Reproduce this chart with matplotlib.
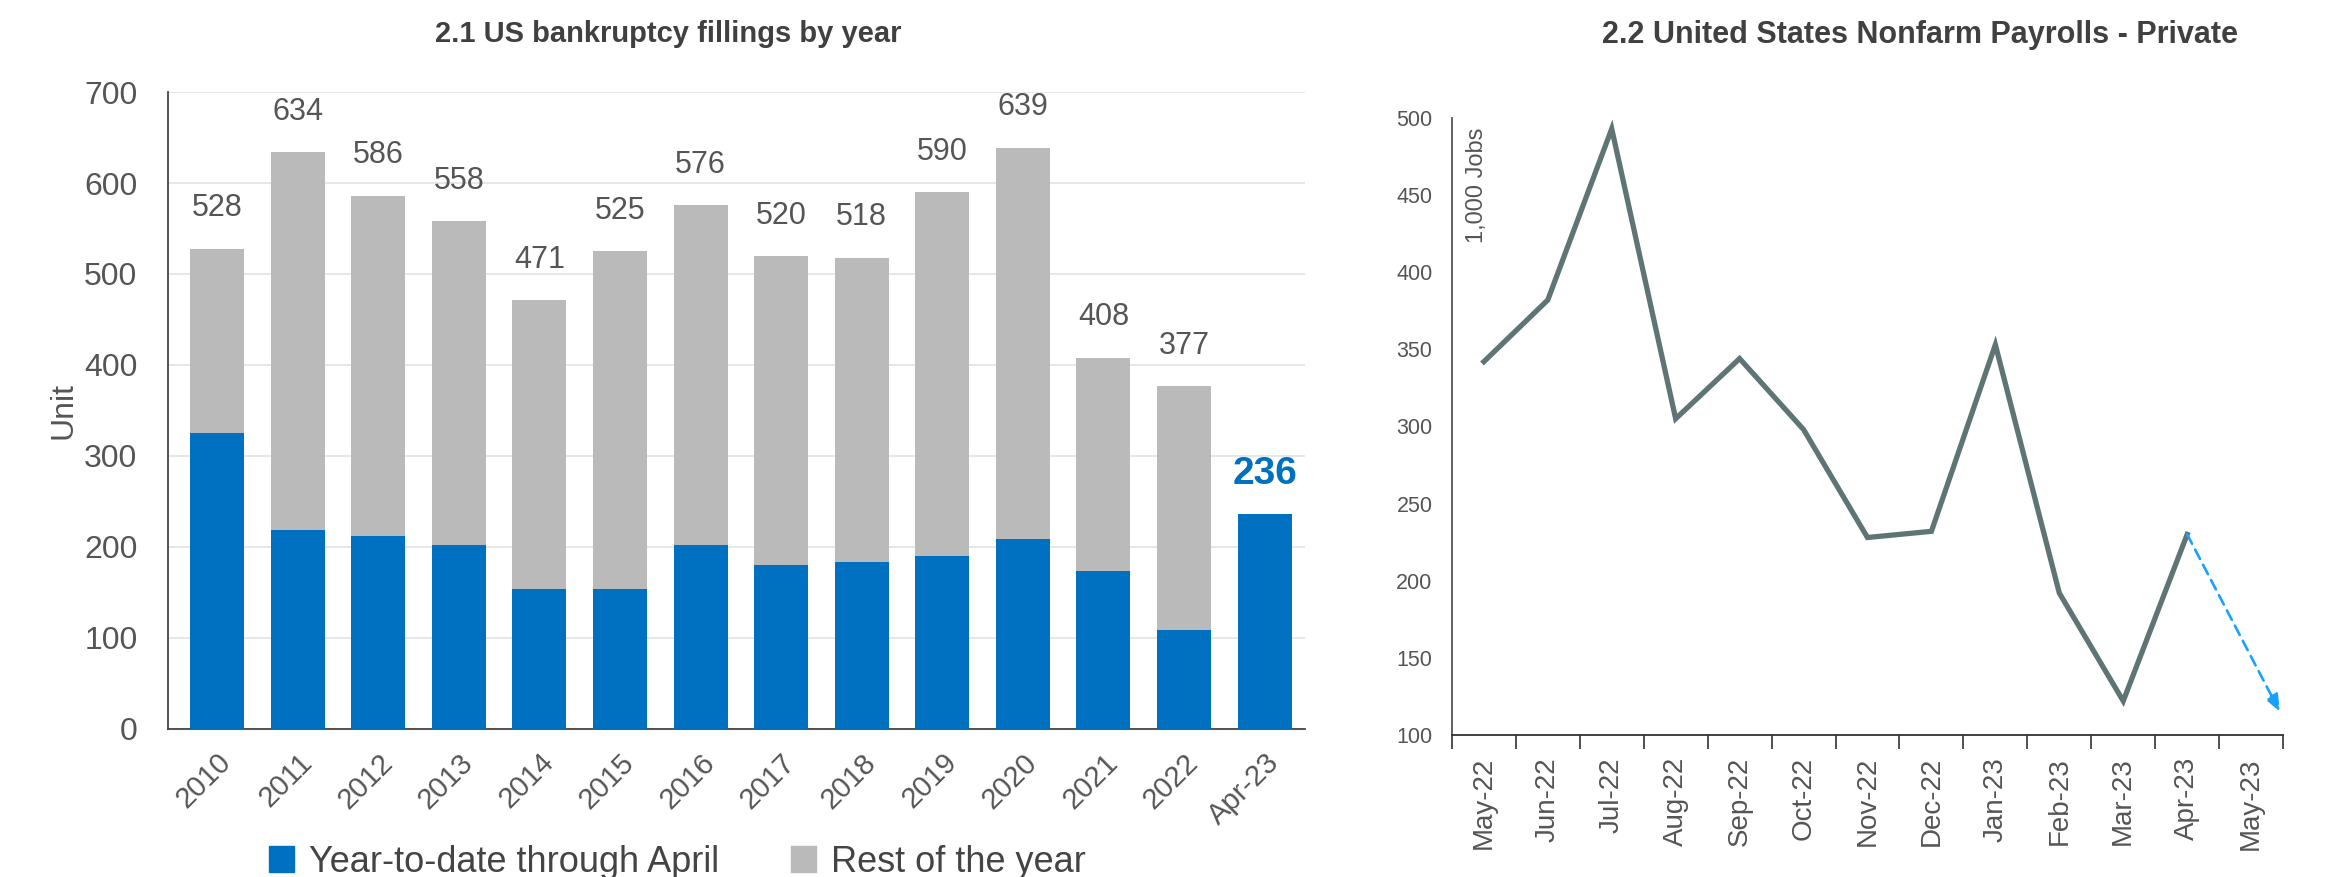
import matplotlib

matplotlib.use("Agg")

import matplotlib.pyplot as plt
import numpy as np
from matplotlib.patches import Patch

plt.rcParams["font.family"] = ["Liberation Sans", "DejaVu Sans"]

# ---- data -------------------------------------------------------------
YEARS = ["2010", "2011", "2012", "2013", "2014", "2015", "2016", "2017",
         "2018", "2019", "2020", "2021", "2022", "Apr-23"]
YTD_APRIL = [325, 219, 212, 202, 154, 154, 202, 180, 183, 190, 209, 174, 109, 236]
TOTALS = [528, 634, 586, 558, 471, 525, 576, 520, 518, 590, 639, 408, 377, 236]

MONTHS = ["May-22", "Jun-22", "Jul-22", "Aug-22", "Sep-22", "Oct-22", "Nov-22",
          "Dec-22", "Jan-23", "Feb-23", "Mar-23", "Apr-23", "May-23"]
PAYROLLS = [342, 382, 493, 305, 344, 298, 228, 232, 353, 192, 122, 230]
MAY23_GUESS = 115

BLUE = "#0070C0"
GREY = "#BABABA"
INK = "#404040"
TXT = "#555555"
LINE = "#5F7575"
ARROW = "#1AA0FF"

fig = plt.figure(figsize=(23.52, 8.77), dpi=100, facecolor="white")

# ---- 2.1 bankruptcy bars ---------------------------------------------
ax1 = fig.add_axes([0.0714, 0.169, 0.4834, 0.726])
x = np.arange(len(YEARS))
rest = [t - y for t, y in zip(TOTALS, YTD_APRIL)]
ax1.bar(x, YTD_APRIL, width=0.67, color=BLUE, zorder=3)
ax1.bar(x, rest, bottom=YTD_APRIL, width=0.67, color=GREY, zorder=3)
for i, t in enumerate(TOTALS):
    last = i == len(TOTALS) - 1
    ax1.annotate(str(t), (i, t), xytext=(0, 29), textcoords="offset points",
                 ha="center", va="center",
                 fontsize=28 if last else 22,
                 fontweight="bold" if last else "normal",
                 color=BLUE if last else TXT)
ax1.set_ylim(0, 700)
ax1.set_xlim(-0.61, len(YEARS) - 0.5)
ax1.set_yticks(range(0, 701, 100))
ax1.set_xticks(x)
ax1.set_xticklabels(YEARS, rotation=45, ha="right", rotation_mode="anchor",
                    fontsize=21, color=TXT)
ax1.tick_params(axis="y", labelsize=23, labelcolor=TXT, length=0, pad=22)
ax1.tick_params(axis="x", length=0, pad=14)
ax1.grid(axis="y", color="#E3E3E3", lw=1.2, zorder=0)
for s in ("top", "right"):
    ax1.spines[s].set_visible(False)
for s in ("left", "bottom"):
    ax1.spines[s].set_color("#444444")
    ax1.spines[s].set_linewidth(1.3)
ax1.set_ylabel("Unit", fontsize=23, color=TXT, labelpad=4)
ax1.set_title("2.1 US bankruptcy fillings by year", fontsize=21,
              fontweight="bold", color=INK, x=0.44, pad=36)

fig.legend(handles=[Patch(color=BLUE, label="Year-to-date through April"),
                    Patch(color=GREY, label="Rest of the year")],
           loc="center", bbox_to_anchor=(0.288, 0.017), ncol=2, frameon=False,
           fontsize=26, labelcolor="#444444", handlelength=0.7, handleheight=0.7,
           columnspacing=2.0, handletextpad=0.4)

# ---- 2.2 nonfarm payrolls line ---------------------------------------
ax2 = fig.add_axes([0.6173, 0.162, 0.3534, 0.7035])
mx = np.arange(len(PAYROLLS))
ax2.plot(mx, PAYROLLS, color=LINE, lw=3.8, solid_joinstyle="miter")
ax2.annotate("", xy=(len(MONTHS) - 1 + 0.45, MAY23_GUESS),
             xytext=(len(PAYROLLS) - 1, PAYROLLS[-1]),
             arrowprops=dict(arrowstyle="-|>,head_length=1.0,head_width=0.4",
                             color=ARROW, lw=1.9, linestyle=(0, (4, 2.5)),
                             shrinkA=0, shrinkB=0))
ax2.set_xlim(-0.5, len(MONTHS) - 0.5)
ax2.set_ylim(100, 500)
ax2.set_yticks(range(100, 501, 50))
ax2.set_xticks(np.arange(-0.5, len(MONTHS)), labels=[])
ax2.set_xticks(np.arange(len(MONTHS)), labels=MONTHS, minor=True)
ax2.tick_params(axis="x", which="major", length=10, width=1.2, color="#333333",
                direction="out")
ax2.tick_params(axis="x", which="minor", length=0, pad=16, labelsize=20,
                labelcolor=TXT, labelrotation=90)
ax2.tick_params(axis="y", length=0, labelsize=15.5, labelcolor=TXT, pad=14)
for s in ("top", "right"):
    ax2.spines[s].set_visible(False)
ax2.spines["left"].set_color(TXT)
ax2.spines["left"].set_linewidth(1.3)
ax2.spines["bottom"].set_color("#333333")
ax2.spines["bottom"].set_linewidth(1.3)
ax2.text(0.03, 0.985, "1,000 Jobs", transform=ax2.transAxes, rotation=90,
         ha="center", va="top", fontsize=17, color=TXT)
ax2.set_title("2.2 United States Nonfarm Payrolls - Private", fontsize=22,
              fontweight="bold", color=INK, x=0.563, pad=54)

fig.savefig("out.png", dpi=100, facecolor="white")
